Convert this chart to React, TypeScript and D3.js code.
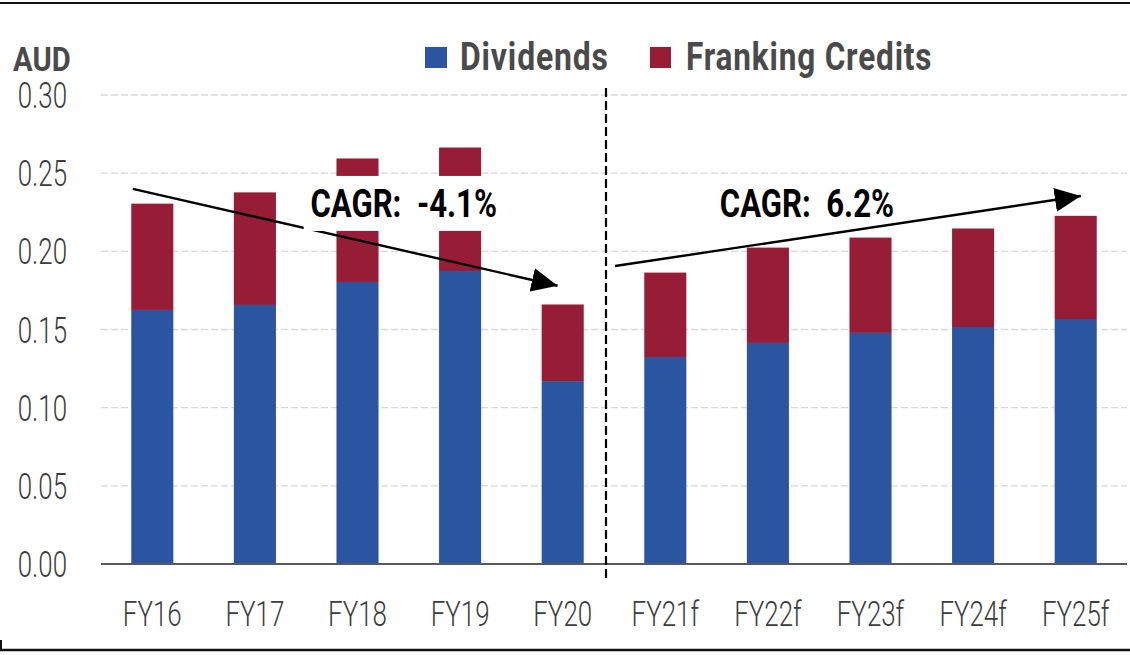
import React from 'react';
import * as d3 from 'd3';

const categories = ['FY16', 'FY17', 'FY18', 'FY19', 'FY20', 'FY21f', 'FY22f', 'FY23f', 'FY24f', 'FY25f'];
const dividends = [0.1625, 0.1657, 0.1804, 0.1874, 0.117, 0.1324, 0.1414, 0.1478, 0.1516, 0.1567];
const franking = [0.068, 0.072, 0.079, 0.079, 0.049, 0.054, 0.061, 0.061, 0.063, 0.066];
const yTicks = [0, 0.05, 0.1, 0.15, 0.2, 0.25, 0.3];
const seriesNames = ['Dividends', 'Franking Credits'];
const seriesColors = ['#2b55a0', '#961d35'];

// arrows: [category, offset from band centre in band units, value]
const cagrArrows = [
  { label: 'CAGR:  -4.1%', from: ['FY16', -0.19, 0.24], to: ['FY20', -0.05, 0.178], text: ['FY18', 0.45, 0.222], box: true },
  { label: 'CAGR:  6.2%', from: ['FY21f', -0.49, 0.1906], to: ['FY25f', 0.05, 0.2354], text: ['FY23f', -0.62, 0.222], box: false },
];

const W = 1130;
const H = 655;
const margin = { top: 95, right: 3, bottom: 91, left: 101 };
const font = 'Roboto, "DejaVu Sans", sans-serif';

// Roboto squeezed sideways to look like the condensed face of the original
const CText: React.FC<any> = ({ x, y, sx, children, ...rest }) => (
  <text transform={`translate(${x},${y}) scale(${sx},1)`} fontFamily={font} {...rest}>
    {children}
  </text>
);

const App: React.FC = () => {
  const innerW = W - margin.left - margin.right;
  const innerH = H - margin.top - margin.bottom;

  const x = d3.scaleBand<string>().domain(categories).range([0, innerW]).paddingInner(0.59).paddingOuter(0.295);
  const y = d3.scaleLinear().domain([0, 0.3]).range([innerH, 0]);

  const rows = categories.map((c, i) => ({ cat: c, Dividends: dividends[i], 'Franking Credits': franking[i] }));
  const stacked = d3.stack<any>().keys(seriesNames)(rows);

  const px = (p: (string | number)[]) => (x(p[0] as string) || 0) + x.bandwidth() / 2 + (p[1] as number) * x.step();
  const py = (p: (string | number)[]) => y(p[2] as number);

  const splitX = x('FY21f')! - (x.step() - x.bandwidth()) / 2 - 8;

  return (
    <svg width={W} height={H} style={{ position: 'absolute', left: 0, top: 0, background: '#fff' }}>
      <defs>
        <marker id="arrowHead" markerUnits="userSpaceOnUse" markerWidth={28} markerHeight={24} refX={26} refY={12} orient="auto">
          <path d="M0,0 L26,12 L0,24 Z" fill="#000" />
        </marker>
      </defs>
      {/* frame */}
      <line x1={0} x2={W} y1={3} y2={3} stroke="#111" strokeWidth={2} />
      <line x1={0} x2={W} y1={650} y2={650} stroke="#111" strokeWidth={2.5} />
      <line x1={1} x2={1} y1={640} y2={651} stroke="#111" strokeWidth={2} />

      {/* legend */}
      <rect x={425} y={47} width={22} height={21} fill={seriesColors[0]} />
      <CText x={460} y={70} sx={0.84} fontWeight="bold" fontSize={38} fill="#4a4a4a" letterSpacing={1}>{seriesNames[0]}</CText>
      <rect x={650} y={47} width={21} height={21} fill={seriesColors[1]} />
      <CText x={686} y={70} sx={0.83} fontWeight="bold" fontSize={38} fill="#4a4a4a" letterSpacing={1}>{seriesNames[1]}</CText>
      <CText x={13} y={71} sx={0.86} fontWeight="bold" fontSize={34} fill="#4a4a4a">AUD</CText>

      <g transform={`translate(${margin.left},${margin.top})`}>
        {/* grid */}
        {yTicks.filter(t => t > 0).map(t => (
          <line key={t} x1={0} x2={innerW} y1={y(t)} y2={y(t)} stroke="#d9d9d9" strokeWidth={1.3} strokeDasharray="7,3" />
        ))}
        {yTicks.map(t => (
          <CText key={t} x={-34} y={y(t) + 13} sx={0.7} textAnchor="end" fontSize={37} fontWeight={300} fill="#3c3c3c">
            {t.toFixed(2)}
          </CText>
        ))}

        {/* bars */}
        {stacked.map((s, si) => (
          <g key={s.key} fill={seriesColors[si]}>
            {s.map((d, i) => (
              <rect key={i} x={x(categories[i])} y={y(d[1])} width={x.bandwidth()} height={y(d[0]) - y(d[1])} />
            ))}
          </g>
        ))}

        {/* baseline */}
        <line x1={0} x2={innerW} y1={y(0)} y2={y(0)} stroke="#595959" strokeWidth={2} />
        {categories.map(c => (
          <CText key={c} x={(x(c) || 0) + x.bandwidth() / 2} y={y(0) + 62} sx={0.72} textAnchor="middle" fontSize={36} fontWeight={300} fill="#3c3c3c">
            {c}
          </CText>
        ))}

        {/* forecast split */}
        <line x1={splitX} x2={splitX} y1={-7} y2={y(0) + 16} stroke="#000" strokeWidth={2.2} strokeDasharray="9,4" />

        {/* CAGR arrows */}
        {cagrArrows.map(a => (
          <g key={a.label}>
            <line x1={px(a.from)} y1={py(a.from)} x2={px(a.to)} y2={py(a.to)} stroke="#000" strokeWidth={2.4} markerEnd="url(#arrowHead)" />
            {a.box && <rect x={px(a.text) - 100} y={py(a.text) - 41} width={200} height={55} fill="#fff" />}
            <CText x={px(a.text)} y={py(a.text)} sx={0.82} textAnchor="middle" fontWeight="bold" fontSize={38} fill="#000" style={{ whiteSpace: 'pre' }}>
              {a.label}
            </CText>
          </g>
        ))}
      </g>
    </svg>
  );
};

export default App;
